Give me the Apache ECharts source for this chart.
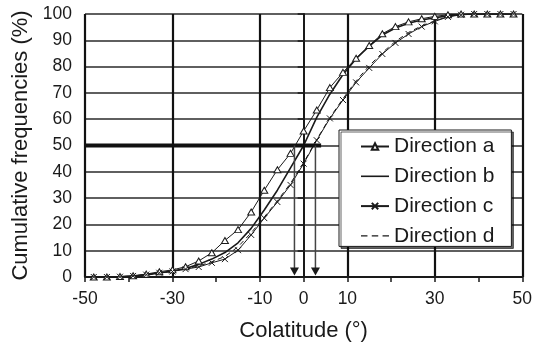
<!DOCTYPE html>
<html>
<head>
<meta charset="utf-8">
<script src="https://cdn.jsdelivr.net/npm/echarts@6/dist/echarts.min.js"></script>
<style>
  html, body { margin: 0; padding: 0; background: #fff; }
  #chart { width: 535px; height: 347px; }
</style>
</head>
<body>
<div id="chart"></div>
<script>
// Colatitude bins (degrees), one point every 3°
const colatitude = [-48, -45, -42, -39, -36, -33, -30, -27, -24, -21, -18, -15, -12, -9, -6, -3,
  0, 3, 6, 9, 12, 15, 18, 21, 24, 27, 30, 33, 36, 39, 42, 45, 48];

// Cumulative frequencies (%) for each direction
const directionA = [0, 0, 0.2, 0.5, 1.1, 2, 2.7, 3.9, 6.1, 9.2, 13.9, 18, 24.7, 33, 40.8, 47,
  55.5, 63.5, 72, 77.8, 83.2, 88, 92.5, 95.2, 97, 98.2, 99.1, 99.7, 100, 100, 100, 100, 100];
const directionB = [0, 0, 0.1, 0.3, 0.8, 1.5, 2.3, 3.2, 4.8, 6.8, 9.3, 13, 18.5, 25.5, 33, 41.5,
  50, 60.7, 69.5, 77, 83, 87.8, 92, 94.7, 96.5, 97.7, 98.6, 99.3, 99.8, 100, 100, 100, 100];
const directionC = [0, 0, 0.1, 0.4, 0.9, 1.6, 2.1, 3, 3.8, 5.4, 6.8, 10.2, 16, 22.4, 28.5, 35,
  43.1, 52, 60.3, 67.3, 74, 79.5, 84.8, 89, 92.4, 95.2, 97.2, 98.9, 99.7, 100, 100, 100, 100];
const directionD = [0, 0, 0.1, 0.3, 0.8, 1.5, 2.2, 3.1, 4.2, 5.8, 7.8, 11.5, 16.8, 22.8, 29, 35.6,
  43.5, 52.3, 60.6, 67.8, 74.6, 80.3, 85.3, 89.6, 93, 95.5, 97.4, 99, 99.7, 100, 100, 100, 100];

const seriesNames = ['Direction a', 'Direction b', 'Direction c', 'Direction d'];

// 50 % level and the median colatitudes read down to the axis
const medianLevel = 50;
const levelLineStart = -50;
const levelLineEnd = 4;
const medianColatitudes = [-2.1, 2.7];
const arrowTipLevel = 2.1;

// Labelled ticks on the colatitude axis
const xTickLabels = [-50, -30, -10, 0, 10, 30, 50];

const FONT = '"Liberation Sans", Arial, Helvetica, sans-serif';
const INK = '#1a1a1a';
const pairs = ys => colatitude.map((x, i) => [x, ys[i]]);
const crossSymbol = 'path://M0,0L10,10M10,0L0,10';
// Legend swatches for the unmarked series: a plain stroke and a three-dash stroke
const solidSwatch = 'path://M0,0H28V1.6H0Z';
const dashedSwatch = 'path://M0,0H6V1.2H0Z M10,0H16V1.2H10Z M20,0H26V1.2H20Z';

const chart = echarts.init(document.getElementById('chart'), null, { renderer: 'canvas' });

const arrowSeries = medianColatitudes.map(m => ({
  type: 'line',
  silent: true,
  symbol: 'none',
  z: 4,
  lineStyle: { color: '#444', width: 1.5 },
  itemStyle: { color: INK },
  data: [
    [m, medianLevel],
    { value: [m, arrowTipLevel], symbol: 'triangle', symbolRotate: 180, symbolSize: [9, 8] }
  ]
}));

chart.setOption({
  animation: false,
  grid: { left: 85, right: 10, top: 14, bottom: 65 },
  xAxis: [
    {
      type: 'value', min: -50, max: 50, interval: 10,
      name: 'Colatitude (°)', nameLocation: 'middle', nameGap: 43,
      nameTextStyle: { fontSize: 22, color: INK, fontFamily: FONT },
      axisLine: { show: true, onZero: false, lineStyle: { color: INK, width: 2 } },
      axisTick: { show: true, length: 5, lineStyle: { color: INK, width: 1.5 } },
      axisLabel: {
        formatter: v => (xTickLabels.includes(v) ? String(v) : ''),
        fontSize: 17.5, color: INK, margin: 13, fontFamily: FONT
      },
      splitLine: { show: false }
    },
    {
      // vertical grid lines every 20° starting at the left edge
      type: 'value', min: 0, max: 100, interval: 20, position: 'bottom',
      axisLine: { show: false }, axisTick: { show: false }, axisLabel: { show: false },
      splitLine: { show: true, lineStyle: { color: '#111', width: 2.2 } }
    }
  ],
  yAxis: {
    type: 'value', min: 0, max: 100, interval: 10,
    name: 'Cumulative frequencies (%)', nameLocation: 'middle', nameGap: 53,
    nameTextStyle: { fontSize: 22, color: INK, fontFamily: FONT },
    axisLine: { show: true, lineStyle: { color: INK, width: 2 } },
    axisTick: { show: true, length: 6, lineStyle: { color: INK, width: 1.5 } },
    axisLabel: { fontSize: 17.5, color: INK, margin: 13, fontFamily: FONT },
    splitLine: { show: true, lineStyle: { color: '#2a2a2a', width: 1.6 } }
  },
  legend: {
    data: [
      { name: seriesNames[0] },
      { name: seriesNames[1], icon: solidSwatch },
      { name: seriesNames[2] },
      { name: seriesNames[3], icon: dashedSwatch }
    ],
    orient: 'vertical',
    left: 339, top: 130,
    backgroundColor: '#fff',
    borderColor: INK, borderWidth: 1,
    shadowColor: 'rgba(0,0,0,0.6)', shadowOffsetX: 2, shadowOffsetY: 2, shadowBlur: 0,
    padding: [6, 17, 0, 21],
    itemWidth: 28, itemHeight: 8, itemGap: 8.8,
    selectedMode: false,
    textStyle: { fontSize: 21, lineHeight: 20, color: INK, fontFamily: FONT }
  },
  series: [
    {
      type: 'line', silent: true, symbol: 'none', z: 4,
      lineStyle: { color: '#111', width: 4 },
      data: [[levelLineStart, medianLevel], [levelLineEnd, medianLevel]]
    },
    ...arrowSeries,
    {
      name: seriesNames[0], type: 'line', data: pairs(directionA),
      symbol: 'triangle', symbolSize: [7, 6], z: 3,
      lineStyle: { color: INK, width: 1 },
      itemStyle: { color: '#fff', borderColor: INK, borderWidth: 1 }
    },
    {
      name: seriesNames[1], type: 'line', data: pairs(directionB),
      symbol: 'none', z: 3,
      lineStyle: { color: INK, width: 1.6 },
      itemStyle: { color: INK }
    },
    {
      name: seriesNames[2], type: 'line', data: pairs(directionC),
      symbol: crossSymbol, symbolSize: 6, z: 3,
      lineStyle: { color: INK, width: 1 },
      itemStyle: { color: INK, borderColor: INK, borderWidth: 1 }
    },
    {
      name: seriesNames[3], type: 'line', data: pairs(directionD),
      symbol: 'none', z: 3,
      lineStyle: { color: INK, width: 1, type: [5, 4] },
      itemStyle: { color: INK }
    }
  ]
});
</script>
</body>
</html>
